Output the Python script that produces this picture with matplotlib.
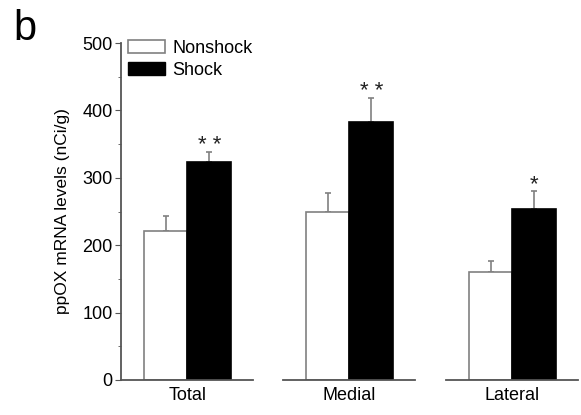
import matplotlib

matplotlib.use("Agg")
import matplotlib.pyplot as plt

plt.rcParams["font.family"] = ["Liberation Sans", "DejaVu Sans"]

regions = ["Total", "Medial", "Lateral"]
nonshock = [221, 249, 160]
nonshock_err = [22, 29, 17]
shock = [323, 383, 254]
shock_err = [16, 36, 27]
signif = ["* *", "* *", "*"]
series = ["Nonshock", "Shock"]
yticks = [0, 100, 200, 300, 400, 500]

W, H = 581, 415
fig = plt.figure(figsize=(W / 100, H / 100), dpi=100)

# each region gets its own little axes so the baselines are broken
panel_left = [121, 283, 446]
panel_w = 132
bottom, top = 380, 43
edge = "#808080"
axis_col = "#555555"

for i, name in enumerate(regions):
    ax = fig.add_axes([panel_left[i] / W, 1 - bottom / H, panel_w / W, (bottom - top) / H])
    vals = [nonshock[i], shock[i]]
    errs = [nonshock_err[i], shock_err[i]]
    ax.bar([0, 1], vals, width=1.0, color=["white", "black"],
           edgecolor=[edge, "black"], linewidth=1.2, zorder=2)
    ax.errorbar([0, 1], vals, yerr=[[0, 0], errs], fmt="none", ecolor=edge,
                elinewidth=1.2, capsize=2, capthick=1.2, zorder=1)
    ax.annotate(signif[i], (1, shock[i] + shock_err[i]), xytext=(0, -3),
                textcoords="offset points", ha="center", va="bottom",
                fontsize=16, color="#222222")
    ax.set_xlim(-1.02, 2.0)
    ax.set_ylim(0, 500)
    ax.set_xticks([0.5])
    ax.set_xticklabels([name], fontsize=13)
    ax.tick_params(axis="x", length=0, pad=5)
    for s in ["top", "right"]:
        ax.spines[s].set_visible(False)
    ax.spines["bottom"].set_color(axis_col)
    ax.spines["bottom"].set_linewidth(1.3)
    if i == 0:
        ax.spines["left"].set_color(axis_col)
        ax.spines["left"].set_linewidth(1.3)
        ax.set_yticks(yticks)
        ax.set_yticks([50, 150, 250, 350, 450], minor=True)
        ax.tick_params(axis="y", which="major", labelsize=13, length=4,
                       color=axis_col, pad=2)
        ax.tick_params(axis="y", which="minor", length=2.5, color=axis_col)
        ax.set_ylabel("ppOX mRNA levels (nCi/g)", fontsize=12.5, labelpad=9)
        handles = [plt.Rectangle((0, 0), 1, 1, facecolor="white", edgecolor=edge, lw=1.2),
                   plt.Rectangle((0, 0), 1, 1, facecolor="black", edgecolor="black")]
        ax.legend(handles, series, loc="upper left", frameon=False, fontsize=13,
                  handlelength=2.1, handleheight=0.75, handletextpad=0.4,
                  labelspacing=0.25, borderaxespad=0.0, bbox_to_anchor=(-0.005, 1.03))
    else:
        ax.spines["left"].set_visible(False)
        ax.set_yticks([])

fig.text(13 / W, 1 - 9 / H, "b", fontsize=30, ha="left", va="top")

fig.savefig("out.png", dpi=100)
